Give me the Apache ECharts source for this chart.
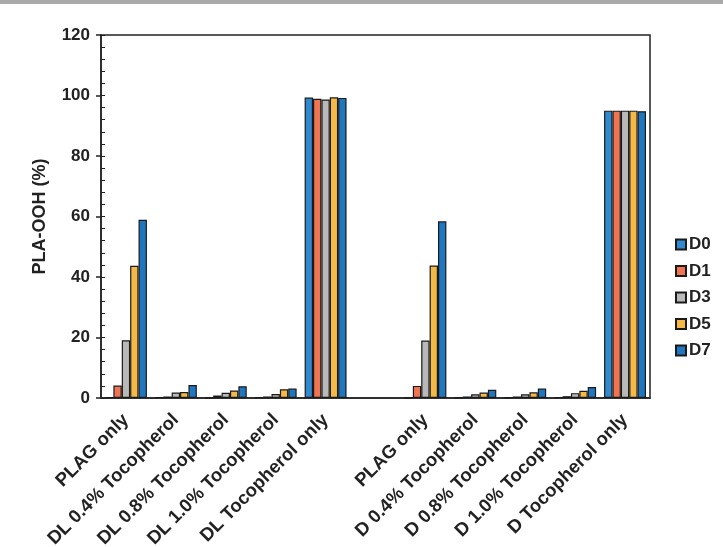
<!DOCTYPE html>
<html>
<head>
<meta charset="utf-8">
<script src="https://cdn.jsdelivr.net/npm/echarts@6/dist/echarts.min.js"></script>
<style>html,body{margin:0;padding:0;background:#fff;}#c{width:723px;height:547px;}</style>
</head>
<body>
<div id="c"></div>
<script>
const categories = ['PLAG only', 'DL 0.4% Tocopherol', 'DL 0.8% Tocopherol', 'DL 1.0% Tocopherol', 'DL Tocopherol only', '',
  'PLAG only', 'D 0.4% Tocopherol', 'D 0.8% Tocopherol', 'D 1.0% Tocopherol', 'D Tocopherol only'];
const seriesNames = ['D0', 'D1', 'D3', 'D5', 'D7'];
const D0 = [0.2, 0.2, 0.1, 0.2, 99.3, null, 0.1, 0.1, 0.1, 0.2, 95.0];
const D1 = [4.1, 0.5, 0.8, 0.5, 98.9, null, 4.0, 0.5, 0.5, 0.6, 95.0];
const D3 = [19.1, 1.8, 1.7, 1.3, 98.7, null, 19.0, 1.2, 1.2, 1.6, 95.0];
const D5 = [43.7, 2.0, 2.5, 2.9, 99.4, null, 43.8, 1.8, 1.9, 2.4, 95.0];
const D7 = [58.9, 4.3, 3.9, 3.1, 99.2, null, 58.4, 2.7, 3.1, 3.6, 94.8];
const yTicks = { min: 0, max: 120, interval: 20 };
const values = [D0, D1, D3, D5, D7];
const colors = ['#3189cf', '#f07352', '#b9b9b9', '#f6b945', '#1f77c0'];

const FONT = '"Liberation Sans", Arial, sans-serif';
const chart = echarts.init(document.getElementById('c'));
chart.setOption({
  backgroundColor: '#fff',
  animation: false,
  graphic: [{ type: 'rect', shape: { x: 0, y: 0, width: 723, height: 4 }, style: { fill: '#a9a9a9' } }],
  grid: { left: 101, right: 73, top: 35, bottom: 149, show: true, borderColor: '#222', borderWidth: 1.5, backgroundColor: 'transparent', outerBoundsMode: 'none', containLabel: false },
  legend: {
    orient: 'vertical', left: 670, top: 231, itemWidth: 10, itemHeight: 10, itemGap: 9.5,
    icon: 'rect',
    textStyle: { fontFamily: FONT, fontWeight: 'bold', fontSize: 17, color: '#222', padding: [0, 0, 0, -2] },
    data: seriesNames
  },
  xAxis: {
    type: 'category', data: categories,
    axisLine: { lineStyle: { color: '#222', width: 1.5 } },
    axisTick: { show: false },
    axisLabel: { interval: 0, rotate: 45, margin: 19, fontFamily: FONT, fontWeight: 'bold', fontSize: 18.5, color: '#222' }
  },
  yAxis: [{
    type: 'value', min: yTicks.min, max: yTicks.max, interval: yTicks.interval,
    name: 'PLA-OOH (%)', nameLocation: 'middle', nameGap: 52,
    nameTextStyle: { fontFamily: FONT, fontWeight: 'bold', fontSize: 18, color: '#222' },
    axisLine: { show: true, lineStyle: { color: '#222', width: 1.5 } },
    axisTick: { show: true, length: 5, lineStyle: { color: '#222', width: 1.5 } },
    axisLabel: { margin: 11, fontFamily: FONT, fontWeight: 'bold', fontSize: 17, color: '#222' },
    splitLine: { show: false }
  }, {
    type: 'value', min: yTicks.min, max: yTicks.max, interval: 4, position: 'left',
    axisLine: { show: false },
    axisTick: { show: true, inside: true, length: 4, lineStyle: { color: '#222', width: 1 } },
    axisLabel: { show: false },
    splitLine: { show: false }
  }],
  series: seriesNames.map((n, i) => ({
    name: n, type: 'bar', data: values[i], barGap: '0%', barCategoryGap: '16%',
    itemStyle: { color: colors[i], borderColor: '#1a1a1a', borderWidth: 1.2 }
  }))
});
</script>
</body>
</html>
